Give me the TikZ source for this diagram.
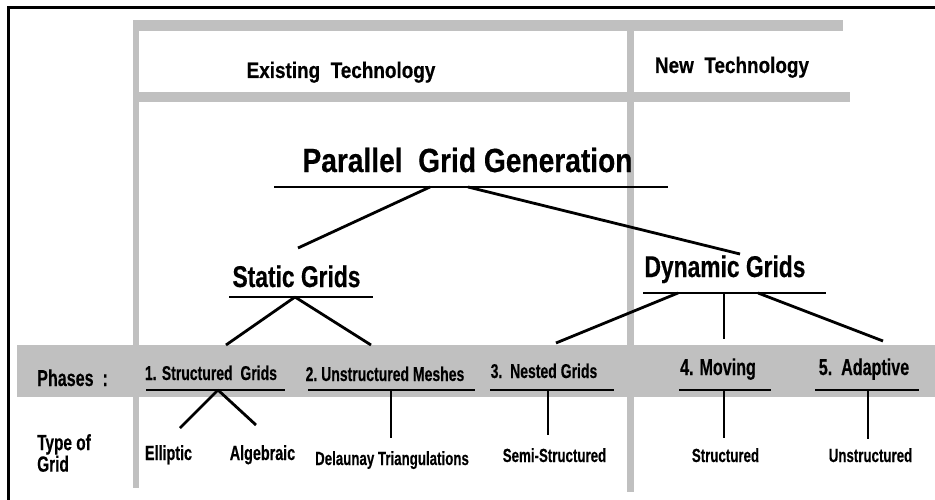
\documentclass[tikz,border=0pt]{standalone}
\usepackage{fontspec}
\setmainfont{Liberation Sans}
\newfontfamily\wideface[FakeStretch=0.84,BoldFeatures={FakeBold=0.4}]{Liberation Sans}
\newfontfamily\midface[FakeStretch=0.76,BoldFeatures={FakeBold=0.4}]{Liberation Sans}
\newfontfamily\slimface[FakeStretch=0.7,BoldFeatures={FakeBold=0.3}]{Liberation Sans}
\definecolor{barGray}{RGB}{192,192,192}

\begin{document}
\begin{tikzpicture}[x=1pt,y=-1pt,
  every node/.style={inner sep=0pt,anchor=base},
  bar/.style={fill=barGray},
  link/.style={line width=2.8pt},
  techlbl/.style={font=\wideface\bfseries\fontsize{22.5}{27}\selectfont},
  rootlbl/.style={font=\wideface\bfseries\fontsize{33.5}{40}\selectfont},
  grplbl/.style={font=\midface\bfseries\fontsize{30}{36}\selectfont},
  phaselbl/.style={font=\slimface\bfseries\fontsize{20}{24}\selectfont},
  phasebig/.style={font=\slimface\bfseries\fontsize{23}{27}\selectfont},
  kindlbl/.style={font=\slimface\bfseries\fontsize{19}{22}\selectfont},
  kindbig/.style={font=\slimface\bfseries\fontsize{20.5}{24}\selectfont}]
  \useasboundingbox (0,0) rectangle (935,500);
  % grey table
  \fill[bar] (133,20) rectangle (843,31);
  \fill[bar] (133,92) rectangle (850,102);
  \fill[bar] (133,20) rectangle (139,488);
  \fill[bar] (627,31) rectangle (634,492);
  \fill[bar] (17,345) rectangle (935,397);
  \draw[line width=2.7pt] (8.7,500) -- (8.7,7.5) -- (935,7.5);

  \node[techlbl] (existing) at (341,78) {Existing\ \ Technology};
  \node[techlbl] (newtech) at (732,73) {New\ \ Technology};
  \node[rootlbl] (pgg) at (467.5,172) {Parallel\ \ Grid Generation};
  \node[grplbl] (static) at (296.5,287) {Static Grids};
  \node[grplbl] (dynamic) at (725,277) {Dynamic Grids};
  \node[phasebig,anchor=base west] (phases) at (37,386) {Phases\ \ :};
  \node[phaselbl] (ph1) at (211,380) {1. Structured\ \ Grids};
  \node[phaselbl] (ph2) at (385,381) {2.\ Unstructured Meshes};
  \node[phaselbl] (ph3) at (544,378) {3.\ \ Nested Grids};
  \node[phasebig] (ph4) at (718,375) {4. Moving};
  \node[phasebig] (ph5) at (864,375) {5.\ \ Adaptive};
  \node[font=\slimface\bfseries\fontsize{22}{18}\selectfont,align=left,anchor=north west]
    (typeof) at (37,434) {Type of\\Grid};
  \node[kindbig] (elliptic) at (168.5,460) {Elliptic};
  \node[kindbig] (algebraic) at (262.5,460) {Algebraic};
  \node[kindlbl] (delaunay) at (392,465) {Delaunay Triangulations};
  \node[kindlbl] (semi) at (554.5,462) {Semi-Structured};
  \node[kindlbl] (structured) at (725.5,462) {Structured};
  \node[kindlbl] (unstructured) at (870.5,462) {Unstructured};

  % underlines and branch points
  \coordinate (pgg-l) at (274,187);
  \coordinate (pgg-r) at (668,187);
  \coordinate (pgg-a) at (430,187);
  \coordinate (pgg-b) at (468,187);
  \coordinate (static-l) at (229,297);
  \coordinate (static-r) at (373,297);
  \coordinate (static-top) at (298,248);
  \coordinate (static-a) at (295,297);
  \coordinate (dynamic-l) at (643,293);
  \coordinate (dynamic-r) at (826,293);
  \coordinate (dynamic-top) at (740,254);
  \coordinate (dynamic-a) at (678,293);
  \coordinate (dynamic-b) at (724,293);
  \coordinate (dynamic-c) at (758,293);
  \coordinate (ph1-top) at (226,345);
  \coordinate (ph2-top) at (371,345);
  \coordinate (ph3-top) at (556,343);
  \coordinate (ph4-top) at (724,339);
  \coordinate (ph5-top) at (883,341);
  \coordinate (ph1-l) at (146,390);
  \coordinate (ph1-r) at (285,390);
  \coordinate (ph1-a) at (218,390);
  \coordinate (ph2-l) at (308,390);
  \coordinate (ph2-r) at (475,390);
  \coordinate (ph2-a) at (391,390);
  \coordinate (ph3-l) at (490,390);
  \coordinate (ph3-r) at (614,390);
  \coordinate (ph3-a) at (548,390);
  \coordinate (ph4-l) at (679,390);
  \coordinate (ph4-r) at (771,390);
  \coordinate (ph4-a) at (724,390);
  \coordinate (ph5-l) at (815,390);
  \coordinate (ph5-r) at (919,390);
  \coordinate (ph5-a) at (868,390);
  \coordinate (elliptic-top) at (180,428);
  \coordinate (algebraic-top) at (256,425);
  \coordinate (delaunay-top) at (391,438);
  \coordinate (semi-top) at (548,435);
  \coordinate (structured-top) at (724,438);
  \coordinate (unstructured-top) at (868,439);

  \draw[link] (pgg-l) -- (pgg-r);
  \draw[link] (static-l) -- (static-r);
  \draw[link] (dynamic-l) -- (dynamic-r);
  \foreach \p in {ph1,ph2,ph3,ph4,ph5}
    \draw[link] (\p-l) -- (\p-r);
  \draw[link] (pgg-a) -- (static-top);
  \draw[link] (pgg-b) -- (dynamic-top);
  \draw[link] (static-a) -- (ph1-top);
  \draw[link] (static-a) -- (ph2-top);
  \draw[link] (dynamic-a) -- (ph3-top);
  \draw[link] (dynamic-b) -- (ph4-top);
  \draw[link] (dynamic-c) -- (ph5-top);
  \draw[link] (ph1-a) -- (elliptic-top);
  \draw[link] (ph1-a) -- (algebraic-top);
  \draw[link] (ph2-a) -- (delaunay-top);
  \draw[link] (ph3-a) -- (semi-top);
  \draw[link] (ph4-a) -- (structured-top);
  \draw[link] (ph5-a) -- (unstructured-top);
\end{tikzpicture}
\end{document}
